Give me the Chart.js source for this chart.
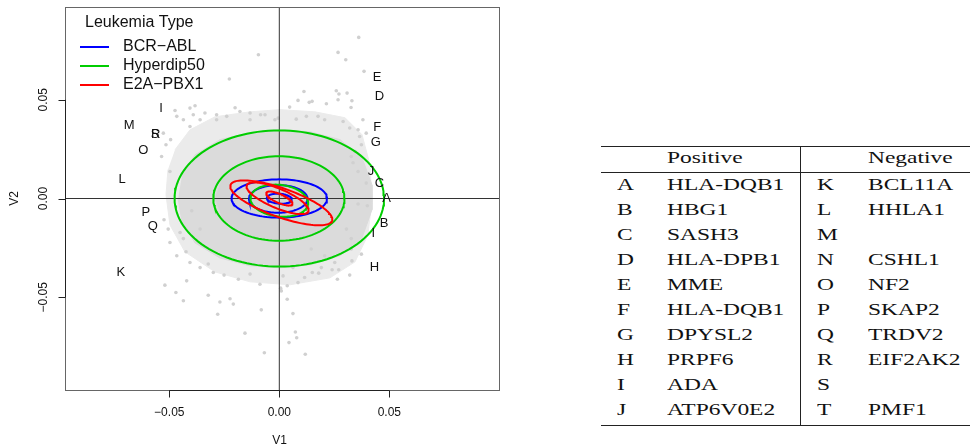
<!DOCTYPE html>
<html>
<head>
<meta charset="utf-8">
<script src="https://cdn.jsdelivr.net/npm/chart.js@4.4.1/dist/chart.umd.min.js"></script>
<style>
  html, body { margin: 0; padding: 0; background: #fff; }
  #wrap { position: relative; width: 972px; height: 447px; overflow: hidden; }
  #pcaChart { position: absolute; left: 0; top: 0; }
  #genes { position: absolute; left: 0; top: 0; font-family: 'Liberation Serif', 'DejaVu Serif', serif; font-size: 17px; color: #111; }
  .cell { position: absolute; white-space: nowrap; height: 20px; line-height: 20px; transform: scaleX(1.38); transform-origin: 0 50%; }
  .rule { position: absolute; background: #222; }
</style>
</head>
<body>
<div id="wrap">
  <canvas id="pcaChart" width="510" height="447"></canvas>
  <div id="genes"></div>
</div>
<script>
// axis ranges and ticks
const xMin = -0.0974, xMax = 0.1003;
const yMin = -0.0970, yMax = 0.0970;
const xTicks = [-0.05, 0, 0.05];
const yTicks = [-0.05, 0, 0.05];
const xTickLabels = ['\u22120.05', '0.00', '0.05'];
const yTickLabels = ['\u22120.05', '0.00', '0.05'];

// gray cloud: dense zones (outline) and scattered points
const haloX = [-0.0474, -0.0406, -0.0292, -0.0133, 0.0003, 0.0162, 0.0299, 0.0376, 0.0412, 0.0421, 0.0403, 0.0344, 0.0230, 0.0049, -0.0133, -0.0292, -0.0429, -0.0497, -0.0515, -0.0506];
const haloY = [0.0247, 0.0348, 0.0414, 0.0439, 0.0450, 0.0439, 0.0409, 0.0323, 0.0171, -0.0007, -0.0184, -0.0321, -0.0402, -0.0437, -0.0422, -0.0372, -0.0270, -0.0134, 0.0019, 0.0147];
const denseX = [-0.0442, -0.0383, -0.0270, -0.0133, 0.0003, 0.0140, 0.0276, 0.0376, 0.0421, 0.0421, 0.0376, 0.0276, 0.0140, 0.0003, -0.0133, -0.0270, -0.0383, -0.0442, -0.0460];
const denseY = [0.0120, 0.0221, 0.0298, 0.0333, 0.0348, 0.0338, 0.0298, 0.0206, 0.0069, -0.0057, -0.0199, -0.0290, -0.0336, -0.0351, -0.0341, -0.0301, -0.0225, -0.0118, -0.0002];
const coreX = [-0.0292, -0.0260, -0.0179, -0.0088, 0.0003, 0.0094, 0.0185, 0.0262, 0.0294, 0.0262, 0.0185, 0.0094, 0.0003, -0.0088, -0.0179, -0.0260];
const coreY = [-0.0002, 0.0095, 0.0171, 0.0206, 0.0216, 0.0206, 0.0171, 0.0095, -0.0002, -0.0098, -0.0169, -0.0209, -0.0219, -0.0209, -0.0169, -0.0098];

const cloudX = [-0.0095, -0.0227, -0.0406, -0.0383, -0.0474, -0.0201, -0.0494, -0.0515, -0.0535, -0.0497,
  0.0361, 0.0267, 0.0302, 0.0385, 0.0112, 0.0085, 0.0047, 0.0259, 0.0271, 0.0308,
  0.0330, 0.0149, 0.0214, 0.0380, 0.0395, 0.0365, 0.0345, 0.0335, 0.0358, 0.0395,
  -0.0520, -0.0470, -0.0436, -0.0421, -0.0323, -0.0270, -0.0280, -0.0209, -0.0156, -0.0068,
  -0.0524, -0.0505, -0.0436, -0.0424, -0.0323, -0.0300, -0.0251, 0.0062, 0.0073, 0.0079,
  0.0044, 0.0118, 0.0036, 0.0036, 0.0009, 0.0085, 0.0115, 0.0150, 0.0179, 0.0240,
  0.0270, 0.0320, 0.0264, 0.0305, 0.0327, 0.0330, 0.0400, 0.0358, 0.0017, -0.0224,
  -0.0082, 0.0006, -0.0085, -0.0005, 0.0136, 0.0326, -0.0466, -0.0360, -0.0285, -0.0406,
  -0.0133, -0.0527, 0.0267, 0.0176, 0.0373, 0.0327, 0.0145, 0.0206, -0.0398, -0.0451, -0.0360,
  -0.0436, -0.0391, -0.0338, -0.0285, -0.0239, -0.0179, -0.0133, -0.0065, -0.0020,
  0.0077, 0.0123, 0.0206, 0.0290, 0.0320, 0.0358,
  -0.0497, -0.0466, -0.0406, -0.0360, -0.0186, -0.0133, -0.0088,
  0.0327, 0.0373, 0.0252, 0.0191, 0.0062];
const cloudY = [0.0728, 0.0605, 0.0458, 0.0470, 0.0446, 0.0460, 0.0298, 0.0272, 0.0213, 0.0137,
  0.0816, 0.0740, 0.0703, 0.0644, 0.0542, 0.0497, 0.0463, 0.0546, 0.0529, 0.0534,
  0.0495, 0.0492, 0.0480, 0.0399, 0.0331, 0.0314, 0.0238, 0.0181, 0.0137, 0.0078,
  -0.0439, -0.0476, -0.0518, -0.0417, -0.0490, -0.0524, -0.0586, -0.0535, -0.0682, -0.0781,
  -0.0108, -0.0155, -0.0203, -0.0270, -0.0332, -0.0375, -0.0388, -0.0583, -0.0676, -0.0705,
  -0.0730, -0.0789, -0.0510, -0.0442, -0.0468, -0.0426, -0.0400, -0.0375, -0.0378, -0.0361,
  -0.0361, -0.0388, -0.0409, -0.0155, -0.0203, -0.0316, -0.0037, -0.0028, -0.0392, -0.0508,
  -0.0564, -0.0454, 0.0424, 0.0407, 0.0487, 0.0461, 0.0416, 0.0399, 0.0424, 0.0365,
  0.0433, 0.0331, 0.0500, 0.0416, 0.0272, 0.0213, -0.0256, -0.0290, -0.0062, -0.0172, -0.0155,
  0.0399, 0.0424, 0.0433, 0.0399, 0.0416, 0.0441, 0.0399, 0.0424, 0.0399,
  0.0402, 0.0416, 0.0399, 0.0390, 0.0357, 0.0348,
  -0.0223, -0.0290, -0.0324, -0.0350, -0.0409, -0.0383, -0.0434,
  -0.0256, -0.0282, -0.0324, -0.0350, -0.0350];

// density contours per leukemia type (centre, half axes, tilt in degrees)
const groupNames = ['BCR\u2212ABL', 'Hyperdip50', 'E2A\u2212PBX1'];
const groupColors = ['#0000ff', '#00cd00', '#ff0000'];
const contourGroup = [0, 0, 0, 1, 1, 1, 2, 2, 2];
const contourCx = [0.0000, -0.0005, 0.0000, 0.0000, -0.0002, 0.0000, 0.0009, -0.0008, 0.0000];
const contourCy = [0.0000, -0.0002, -0.0001, 0.0000, 0.0000, -0.0011, -0.0022, 0.0001, 0.0000];
const contourA = [0.0217, 0.0133, 0.0057, 0.0476, 0.0298, 0.0132, 0.0248, 0.0155, 0.0066];
const contourB = [0.0097, 0.0070, 0.0025, 0.0345, 0.0214, 0.0080, 0.0072, 0.0048, 0.0022];
const contourTilt = [0, 0, -5, 0, 0, -8, -21.8, -25.8, -27];

// gene letters on the plot
const geneLetters = ['E', 'D', 'F', 'G', 'J', 'C', 'A', 'B', 'I', 'H', 'I', 'M', 'S', 'R', 'O', 'L', 'P', 'Q', 'K'];
const geneX = [0.0444, 0.0455, 0.0445, 0.0438, 0.0417, 0.0455, 0.0488, 0.0476, 0.0427, 0.0432, -0.0538, -0.0682, -0.0565, -0.0562, -0.0618, -0.0714, -0.0607, -0.0575, -0.0720];
const geneY = [0.0612, 0.0517, 0.0362, 0.0284, 0.0137, 0.0078, -0.0002, -0.0125, -0.0175, -0.0350, 0.0458, 0.0368, 0.0323, 0.0326, 0.0243, 0.0095, -0.0069, -0.0142, -0.0373];

// table beside the plot
const posLetters = ['A', 'B', 'C', 'D', 'E', 'F', 'G', 'H', 'I', 'J'];
const posGenes = ['HLA-DQB1', 'HBG1', 'SASH3', 'HLA-DPB1', 'MME', 'HLA-DQB1', 'DPYSL2', 'PRPF6', 'ADA', 'ATP6V0E2'];
const negLetters = ['K', 'L', 'M', 'N', 'O', 'P', 'Q', 'R', 'S', 'T'];
const negGenes = ['BCL11A', 'HHLA1', '', 'CSHL1', 'NF2', 'SKAP2', 'TRDV2', 'EIF2AK2', '', 'PMF1'];

function toPoints(xs, ys) {
    return xs.map((x, i) => ({ x: x, y: ys[i] }));
}

function contourPoints(i) {
    const pts = [];
    const th = contourTilt[i] * Math.PI / 180;
    for (let k = 0; k <= 120; k++) {
        const t = k / 120 * 2 * Math.PI;
        const u = contourA[i] * Math.cos(t), v = contourB[i] * Math.sin(t);
        pts.push({
            x: contourCx[i] + u * Math.cos(th) - v * Math.sin(th),
            y: contourCy[i] + u * Math.sin(th) + v * Math.cos(th)
        });
    }
    return pts;
}

function zone(xs, ys, color, order) {
    return {
        data: toPoints(xs, ys), showLine: true, fill: 'shape', backgroundColor: color,
        borderColor: color, borderWidth: 1, pointRadius: 0, order: order
    };
}

const datasets = [];
contourGroup.forEach((g, i) => {
    datasets.push({
        data: contourPoints(i), showLine: true, fill: false, borderColor: groupColors[g],
        borderWidth: 2, pointRadius: 0, tension: 0, order: 3 - g
    });
});
// zero lines
datasets.push({ data: [{ x: xMin, y: 0 }, { x: xMax, y: 0 }], showLine: true, borderColor: '#333', borderWidth: 1, pointRadius: 0, order: 4 });
datasets.push({ data: [{ x: 0, y: yMin }, { x: 0, y: yMax }], showLine: true, borderColor: '#333', borderWidth: 1, pointRadius: 0, order: 4 });
datasets.push({ data: toPoints(cloudX, cloudY), pointRadius: 1.8, pointBackgroundColor: '#d0d0d0', pointBorderWidth: 0, order: 5 });
datasets.push(zone(coreX, coreY, '#d4d4d4', 6));
datasets.push(zone(denseX, denseY, '#dbdbdb', 7));
datasets.push(zone(haloX, haloY, '#ebebeb', 8));

const biplotDecor = {
    id: 'biplotDecor',
    afterDatasetsDraw(chart) {
        const { ctx, chartArea: a, scales: { x, y } } = chart;
        ctx.save();
        // gene letters
        ctx.font = '13px "Liberation Sans", Arial, sans-serif';
        ctx.fillStyle = '#111';
        ctx.textAlign = 'center';
        ctx.textBaseline = 'middle';
        geneLetters.forEach((t, i) => {
            ctx.fillText(t, x.getPixelForValue(geneX[i]), y.getPixelForValue(geneY[i]));
        });

        // box
        const L = Math.round(a.left) + 0.5, R = Math.round(a.right) - 0.5;
        const T = Math.round(a.top) + 0.5, B = Math.round(a.bottom) + 0.5;
        ctx.strokeStyle = '#666';
        ctx.lineWidth = 1;
        ctx.strokeRect(L, T, R - L, B - T);

        // axes R style
        ctx.strokeStyle = '#222';
        ctx.fillStyle = '#111';
        ctx.font = '12px "Liberation Sans", Arial, sans-serif';
        const x0 = x.getPixelForValue(xTicks[0]), x1 = x.getPixelForValue(xTicks[xTicks.length - 1]);
        ctx.beginPath();
        ctx.moveTo(x0, B); ctx.lineTo(x1, B);
        xTicks.forEach(v => {
            const px = Math.round(x.getPixelForValue(v)) + 0.5;
            ctx.moveTo(px, B); ctx.lineTo(px, B + 7);
        });
        const y0 = y.getPixelForValue(yTicks[0]), y1 = y.getPixelForValue(yTicks[yTicks.length - 1]);
        ctx.moveTo(L, y0); ctx.lineTo(L, y1);
        yTicks.forEach(v => {
            const py = Math.round(y.getPixelForValue(v)) + 0.5;
            ctx.moveTo(L, py); ctx.lineTo(L - 7, py);
        });
        ctx.stroke();

        ctx.textAlign = 'center';
        ctx.textBaseline = 'middle';
        xTicks.forEach((v, i) => ctx.fillText(xTickLabels[i], x.getPixelForValue(v), B + 22));
        yTicks.forEach((v, i) => {
            ctx.save();
            ctx.translate(L - 22, y.getPixelForValue(v));
            ctx.rotate(-Math.PI / 2);
            ctx.fillText(yTickLabels[i], 0, 0);
            ctx.restore();
        });
        ctx.fillText('V1', (a.left + a.right) / 2 - 3, B + 50);
        ctx.save();
        ctx.translate(L - 51, (a.top + a.bottom) / 2);
        ctx.rotate(-Math.PI / 2);
        ctx.fillText('V2', 0, 0);
        ctx.restore();

        // legend
        ctx.font = '16px "Liberation Sans", Arial, sans-serif';
        ctx.textAlign = 'left';
        ctx.textBaseline = 'alphabetic';
        ctx.fillText('Leukemia Type', a.left + 20, a.top + 20);
        ctx.textBaseline = 'middle';
        groupNames.forEach((name, i) => {
            const ly = a.top + 40 + i * 19;
            ctx.strokeStyle = groupColors[i];
            ctx.lineWidth = 2;
            ctx.beginPath();
            ctx.moveTo(a.left + 15, ly); ctx.lineTo(a.left + 44, ly);
            ctx.stroke();
            ctx.fillText(name, a.left + 58, ly);
        });
        ctx.restore();
    }
};

new Chart(document.getElementById('pcaChart'), {
    type: 'scatter',
    data: { datasets: datasets },
    options: {
        responsive: false,
        animation: false,
        events: [],
        layout: { padding: { top: 7, right: 10, left: 0, bottom: 0 } },
        plugins: { legend: { display: false }, tooltip: { enabled: false } },
        scales: {
            x: {
                type: 'linear', min: xMin, max: xMax,
                grid: { display: false }, border: { display: false }, ticks: { display: false },
                afterFit: function (s) { s.height = 57; }
            },
            y: {
                type: 'linear', min: yMin, max: yMax,
                grid: { display: false }, border: { display: false }, ticks: { display: false },
                afterFit: function (s) { s.width = 65; }
            }
        }
    },
    plugins: [biplotDecor]
});

// gene table
const table = document.getElementById('genes');
function addCell(text, left, cy) {
    const d = document.createElement('div');
    d.className = 'cell';
    d.textContent = text;
    d.style.left = left + 'px';
    d.style.top = (cy - 10) + 'px';
    table.appendChild(d);
}
function addRule(left, top, w, h) {
    const d = document.createElement('div');
    d.className = 'rule';
    d.style.left = left + 'px'; d.style.top = top + 'px';
    d.style.width = w + 'px'; d.style.height = h + 'px';
    table.appendChild(d);
}
addRule(601, 145.5, 369, 1.5);
addRule(601, 171.5, 369, 1.2);
addRule(601, 424.5, 369, 1.5);
addRule(799.5, 146, 1, 279);
addCell('Positive', 667, 158);
addCell('Negative', 868, 158);
posLetters.forEach((t, i) => {
    const cy = 185 + i * 25;
    addCell(t, 617, cy);
    addCell(posGenes[i], 667, cy);
    addCell(negLetters[i], 817, cy);
    addCell(negGenes[i], 868, cy);
});
</script>
</body>
</html>
